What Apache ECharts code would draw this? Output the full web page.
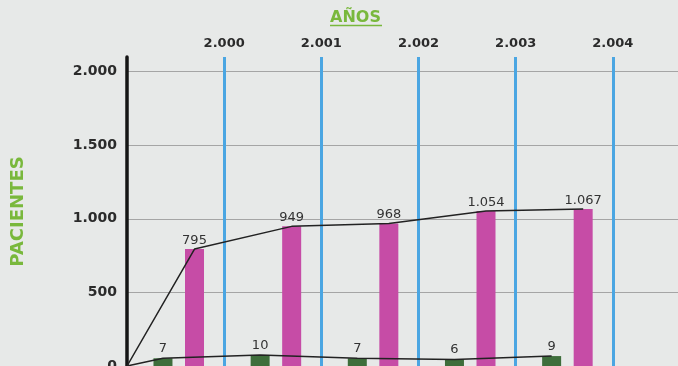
<!DOCTYPE html>
<html><head><meta charset="utf-8">
<script src="https://cdn.jsdelivr.net/npm/echarts@6/dist/echarts.min.js"></script>
<style>html,body{margin:0;padding:0;background:#e7e9e8}#c{width:678px;height:366px}</style>
</head><body><div id="c"></div>
<script>
// ---- data ----
const years = ['2.000', '2.001', '2.002', '2.003', '2.004'];
const greenValues = [7, 10, 7, 6, 9];
const pinkValues = [795, 949, 968, 1054, 1067];
const yTickStep = 500;
const yTop = 2000;

// ---- layout constants ----
const W = 678, GRID_LEFT = 127, GRID_RIGHT = -32, X_MAX = 6;
const BAR_W = 19, BAR_GAP = 0.66, LEAD_W = 3.8; // LEAD_W: empty spacer slot before the bars
const unitPx = (W - GRID_LEFT - GRID_RIGHT) / X_MAX;
const step = BAR_W * (1 + BAR_GAP);
const greenShift = (LEAD_W * (1 + BAR_GAP) / 2 - step / 2) / unitPx;
const pinkShift = greenShift + step / unitPx;

const fmt = n => String(n).replace(/\B(?=(\d{3})+(?!\d))/g, '.');
const slots = years.concat(['']);
const pinkLine = [[0, 0]].concat(pinkValues.map((v, i) => [i + 0.5 + pinkShift, v]));
const greenLine = [[0, 0]].concat(greenValues.map((v, i) => [i + 0.5 + greenShift, v]));

const FONT = 'DejaVu Sans';
const chart = echarts.init(document.getElementById('c'), null, {renderer: 'canvas'});
chart.setOption({
  backgroundColor: '#e7e9e8',
  animation: false,
  title: {
    text: 'AÑOS', left: 330, top: 10, padding: 0,
    textStyle: {color: '#79b83c', fontWeight: 'bold', fontSize: 16, fontFamily: FONT}
  },
  graphic: [{
    type: 'line', shape: {x1: 330, y1: 25.5, x2: 382, y2: 25.5},
    style: {stroke: '#79b83c', lineWidth: 1.5}
  }],
  grid: {left: GRID_LEFT, right: GRID_RIGHT, top: 57, bottom: 0, outerBoundsMode: 'none', containLabel: false},
  xAxis: [{
    type: 'value', position: 'top', min: 0, max: X_MAX, interval: 1,
    axisLine: {show: false, onZero: false}, axisTick: {show: false},
    axisLabel: {
      formatter: v => years[v - 1] || '', margin: 7,
      fontFamily: FONT, fontWeight: 'bold', fontSize: 13, color: '#2b2b2b'
    },
    splitLine: {show: true, showMinLine: false, lineStyle: {color: '#4ba6e2', width: 3}}
  }, {
    type: 'category', position: 'bottom', data: slots, show: false, boundaryGap: true
  }],
  yAxis: [{
    type: 'value', min: 0, max: yTop + 100, interval: yTickStep,
    axisLine: {show: true, onZero: false, lineStyle: {color: '#151515', width: 3.5}},
    axisTick: {show: false},
    axisLabel: {
      showMaxLabel: false, formatter: fmt, margin: 10,
      fontFamily: FONT, fontWeight: 'bold', fontSize: 14, color: '#2b2b2b'
    },
    splitLine: {show: true, showMaxLine: false, lineStyle: {color: '#a5a5a5', width: 1}},
    name: 'PACIENTES', nameLocation: 'middle', nameRotate: 90, nameGap: 100,
    nameTextStyle: {color: '#79b83c', fontWeight: 'bold', fontSize: 18, fontFamily: FONT}
  }, {
    type: 'value', min: 0, max: 280, show: false, splitLine: {show: false}
  }],
  series: [{
    type: 'bar', name: 'spacer', xAxisIndex: 1, yAxisIndex: 0, data: [],
    barWidth: LEAD_W, silent: true
  }, {
    type: 'bar', name: 'g', xAxisIndex: 1, yAxisIndex: 1, data: greenValues,
    barWidth: BAR_W, itemStyle: {color: '#3e6e3b'},
    label: {show: true, position: 'top', distance: 3, fontFamily: FONT, fontSize: 13, color: '#333'}
  }, {
    type: 'bar', name: 'p', xAxisIndex: 1, yAxisIndex: 0, data: pinkValues,
    barWidth: BAR_W, barGap: (BAR_GAP * 100) + '%', itemStyle: {color: '#c64ca6'},
    label: {show: true, position: 'top', distance: 2, formatter: p => fmt(p.value),
            fontFamily: FONT, fontSize: 13, color: '#333'}
  }, {
    type: 'line', xAxisIndex: 0, yAxisIndex: 0, data: pinkLine, symbol: 'none', z: 5,
    lineStyle: {color: '#222', width: 1.5}
  }, {
    type: 'line', xAxisIndex: 0, yAxisIndex: 1, data: greenLine, symbol: 'none', z: 5,
    lineStyle: {color: '#222', width: 1.5}
  }]
});
</script></body></html>
